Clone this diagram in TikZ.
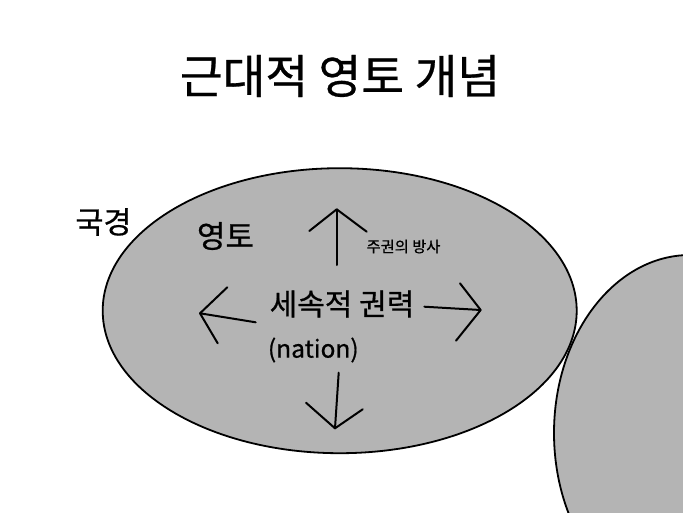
\documentclass[tikz,border=0pt]{standalone}
\usepackage{fontspec}
\setmainfont[FakeBold=0.6]{Noto Sans CJK KR}
\begin{document}
\begin{tikzpicture}[x=1pt,y=-1pt,
  region/.style={draw=black,line width=1.8pt,fill=regiongray},
  stroke/.style={draw=black,line width=2pt,line cap=round,line join=round},
  lbl/.style={inner sep=0pt,anchor=center}]
\definecolor{regiongray}{RGB}{180,180,180}
\useasboundingbox (0,0) rectangle (683,512);
\clip (0,0) rectangle (683,512);
% regions
\fill[white] (0,0) rectangle (683,512);
\draw[region] (339.7,310.7) ellipse [x radius=237, y radius=142.5];
\draw[region] (690,433) ellipse [x radius=136, y radius=178];
% title
\node[lbl,font=\fontsize{46.5}{50}\selectfont] (title) at (340,76) {근대적 영토 개념};
% labels
\node[lbl,font=\fontsize{30.5}{32}\selectfont] (border) at (103.5,222) {국경};
\node[lbl,font=\fontsize{31}{33}\selectfont] (terr) at (225.5,236) {영토};
\node[lbl,font=\fontsize{30}{32}\selectfont] (power) at (342,304) {세속적 권력};
\node[lbl,font=\fontsize{24.5}{28}\selectfont] (nation) at (313.3,350) {(nation)};
\node[lbl,font=\fontsize{15.3}{17}\selectfont] (radiate) at (403.5,246.5) {주권의 방사};
% radiating arrows (hand drawn)
\coordinate (upS) at (336.7,265);   \coordinate (upT) at (336.7,209.3);
\coordinate (ltS) at (255.7,322.3); \coordinate (ltT) at (200,313.3);
\coordinate (rtS) at (424.3,306.7); \coordinate (rtT) at (480.7,310);
\coordinate (dnS) at (338.7,372.7); \coordinate (dnT) at (335,428.3);
\draw[stroke] (upS) -- (upT);
\draw[stroke] (309.3,231) -- (upT) -- (366.7,231.7);
\draw[stroke] (ltS) -- (ltT);
\draw[stroke] (227.3,287.3) -- (ltT) -- (217.7,343.3);
\draw[stroke] (rtS) -- (rtT);
\draw[stroke] (460,283.3) -- (rtT) -- (456,340.7);
\draw[stroke] (dnS) -- (dnT);
\draw[stroke] (306,402.7) -- (dnT) -- (362.7,409.3);
\end{tikzpicture}
\end{document}
